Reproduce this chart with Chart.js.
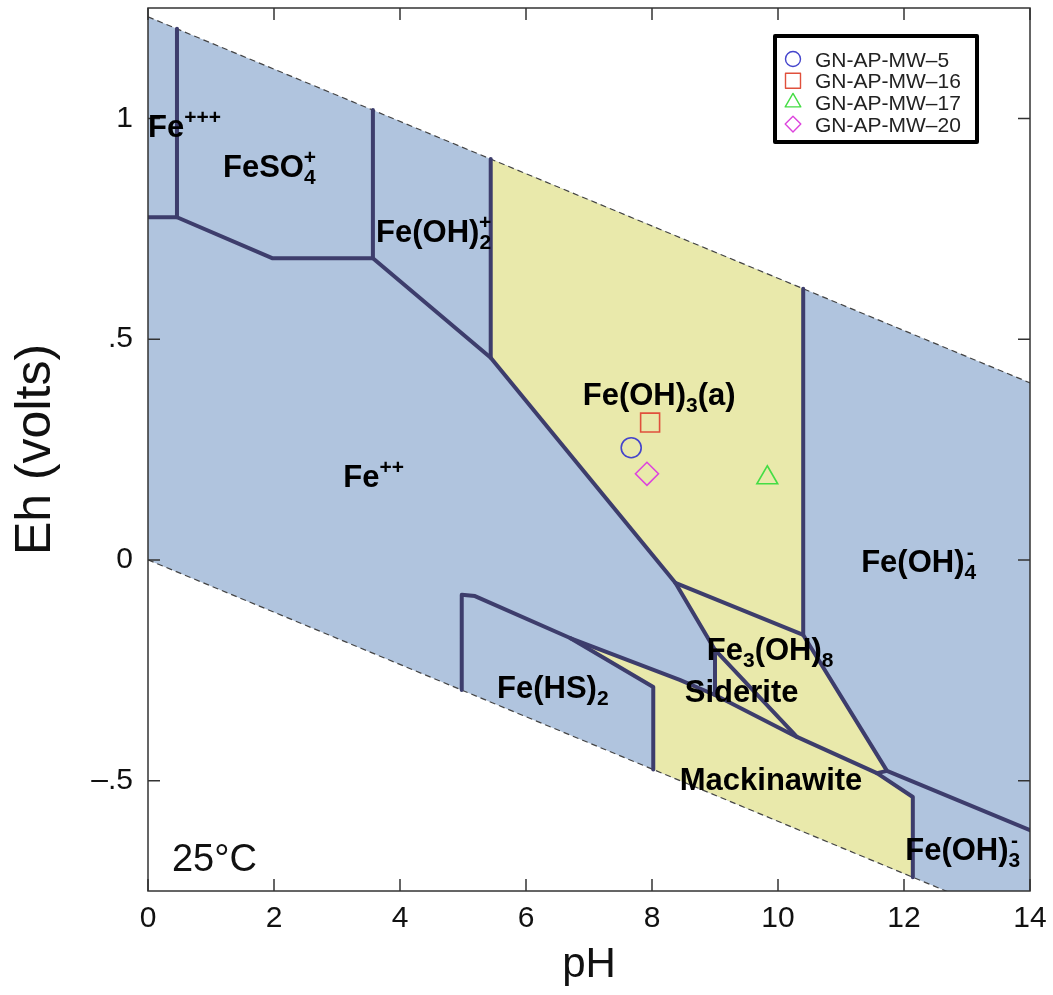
<!DOCTYPE html>
<html>
<head>
<meta charset="utf-8">
<script src="https://cdn.jsdelivr.net/npm/chart.js@4.4.1/dist/chart.umd.min.js"></script>
<style>
  html, body { margin: 0; padding: 0; background: #fff; }
</style>
</head>
<body>
<canvas id="chart" width="1053" height="995"></canvas>
<script>
// Eh-pH diagram for iron, 25 C. Field samples plotted on top.
const sampleNames = ['GN-AP-MW\u20135', 'GN-AP-MW\u201316', 'GN-AP-MW\u201317', 'GN-AP-MW\u201320'];
const samplePH = [7.67, 7.97, 9.83, 7.92];
const sampleEh = [0.254, 0.311, 0.186, 0.195];

const xTicks = [0, 2, 4, 6, 8, 10, 12, 14];
const yTicks = [-0.5, 0, 0.5, 1];
const yTickLabels = ['\u2013.5', '0', '.5', '1'];

// water stability limits
const waterUpper = [[0, 1.23], [14, 0.401]];
const waterLower = [[0, 0], [14, -0.829]];

// predominance fields (pH, Eh)
const aqueousField = [[0, 1.23], [14, 0.401], [14, -0.829], [0, 0]];
const ferrihydrite = [[5.44, 0.908], [10.40, 0.614], [10.40, -0.170], [8.37, -0.052], [5.44, 0.458]];
const magnetite = [[8.37, -0.052], [10.40, -0.170], [11.73, -0.478], [11.57, -0.483], [10.30, -0.401], [9.0, -0.204]];
const siderite = [[9.0, -0.204], [9.0, -0.306], [10.30, -0.401]];
const mackinawite = [[8.02, -0.288], [6.70, -0.177], [8.44, -0.272], [9.0, -0.306], [10.30, -0.401],
  [11.57, -0.483], [12.14, -0.537], [12.14, -0.719], [8.02, -0.475]];

// field boundaries
const boundaries = [
  [[0.46, 1.203], [0.46, 0.776]],
  [[0, 0.776], [0.46, 0.776], [1.98, 0.683], [3.57, 0.683], [5.44, 0.458], [8.37, -0.052], [9.0, -0.204]],
  [[3.57, 1.019], [3.57, 0.683]],
  [[5.44, 0.908], [5.44, 0.458]],
  [[8.37, -0.052], [10.40, -0.170], [11.73, -0.478], [14, -0.612]],
  [[10.40, 0.614], [10.40, -0.170]],
  [[9.0, -0.204], [9.0, -0.306]],
  [[9.0, -0.204], [10.30, -0.401]],
  [[4.98, -0.295], [4.98, -0.079], [5.19, -0.082], [6.70, -0.177], [8.44, -0.272], [9.0, -0.306],
    [10.30, -0.401], [11.57, -0.483], [12.14, -0.537], [12.14, -0.719]],
  [[6.70, -0.177], [8.02, -0.288], [8.02, -0.475]],
  [[11.57, -0.483], [11.73, -0.478]]
];

// species names, anchored at left/baseline in data units
const regionLabels = [
  { at: [0.0, 0.957], parts: [['Fe'], ['+++', 'sup']] },
  { at: [1.19, 0.868], parts: [['FeSO'], ['4', 'both', '+']] },
  { at: [3.62, 0.719], parts: [['Fe(OH)'], ['2', 'both', '+']] },
  { at: [6.90, 0.351], parts: [['Fe(OH)'], ['3', 'sub'], ['(a)']] },
  { at: [3.10, 0.166], parts: [['Fe'], ['++', 'sup']] },
  { at: [11.32, -0.027], parts: [['Fe(OH)'], ['4', 'both', '-']] },
  { at: [8.87, -0.227], parts: [['Fe'], ['3', 'sub'], ['(OH)'], ['8', 'sub']] },
  { at: [8.52, -0.322], parts: [['Siderite']] },
  { at: [5.54, -0.313], parts: [['Fe(HS)'], ['2', 'sub']] },
  { at: [8.44, -0.522], parts: [['Mackinawite']] },
  { at: [12.02, -0.680], parts: [['Fe(OH)'], ['3', 'both', '-']] }
];

const FONT = "'Liberation Sans', Arial, sans-serif";
const BLUE = '#b0c4de';
const YELLOW = '#e9e9ab';
const EDGE = '#3d3d6c';

const markerStyles = ['circle', 'rect', 'triangle', 'rectRot'];
const markerColors = ['#4444cc', '#e0503c', '#44dd44', '#dd44dd'];
const markerSizes = [10, 13.4, 12, 11.5];
const legendSizes = [7.5, 10.6, 9, 7.8];

const toXY = arr => arr.map(p => ({ x: p[0], y: p[1] }));

function polygon(points, color, order) {
  return {
    type: 'line', data: toXY(points), order,
    backgroundColor: color, borderWidth: 0, pointRadius: 0,
    fill: 'shape', tension: 0
  };
}

const datasets = [];
sampleNames.forEach((name, i) => {
  datasets.push({
    type: 'scatter', label: name, order: 1,
    data: [{ x: samplePH[i], y: sampleEh[i] }],
    pointStyle: markerStyles[i], pointRadius: markerSizes[i],
    borderColor: markerColors[i], backgroundColor: 'rgba(0,0,0,0)', borderWidth: 1.6
  });
});
boundaries.forEach(b => {
  datasets.push({
    type: 'line', data: toXY(b), order: 2, borderColor: EDGE, borderWidth: 4,
    pointRadius: 0, fill: false, tension: 0, borderJoinStyle: 'round', borderCapStyle: 'round'
  });
});
[waterUpper, waterLower].forEach(w => {
  datasets.push({
    type: 'line', data: toXY(w), order: 3, borderColor: '#444', borderWidth: 1.2,
    borderDash: [6, 4], pointRadius: 0, fill: false
  });
});
[ferrihydrite, magnetite, siderite, mackinawite].forEach(p => datasets.push(polygon(p, YELLOW, 4)));
datasets.push(polygon(aqueousField, BLUE, 5));

function drawMarker(ctx, style, x, y, r) {
  ctx.beginPath();
  if (style === 'circle') {
    ctx.arc(x, y, r, 0, Math.PI * 2);
  } else if (style === 'rect') {
    const s = r * Math.SQRT1_2;
    ctx.rect(x - s, y - s, 2 * s, 2 * s);
  } else if (style === 'triangle') {
    for (let k = 0; k < 3; k++) {
      const a = k * 2 * Math.PI / 3;
      const px = x + Math.sin(a) * r, py = y - Math.cos(a) * r;
      k ? ctx.lineTo(px, py) : ctx.moveTo(px, py);
    }
    ctx.closePath();
  } else {
    ctx.moveTo(x - r, y); ctx.lineTo(x, y - r); ctx.lineTo(x + r, y); ctx.lineTo(x, y + r);
    ctx.closePath();
  }
  ctx.stroke();
}

function drawRich(ctx, x, y, parts) {
  const big = 'bold 31px ' + FONT, small = 'bold 21px ' + FONT;
  let cx = x;
  parts.forEach(([t, kind, sup]) => {
    if (!kind) {
      ctx.font = big;
      ctx.fillText(t, cx, y);
      cx += ctx.measureText(t).width;
    } else if (kind === 'sub') {
      ctx.font = small;
      ctx.fillText(t, cx, y + 7);
      cx += ctx.measureText(t).width;
    } else if (kind === 'sup') {
      ctx.font = small;
      ctx.fillText(t, cx, y - 13);
      cx += ctx.measureText(t).width;
    } else {
      ctx.font = small;
      ctx.fillText(t, cx, y + 7);
      const w = ctx.measureText(t).width;
      const ws = ctx.measureText(sup).width;
      ctx.fillText(sup, cx + (w - ws) / 2, y - 13);
      cx += Math.max(w, ws);
    }
  });
}

const frameAndTicks = {
  id: 'frameAndTicks',
  afterDatasetsDraw(chart) {
    const { ctx, chartArea: a, scales: { x, y } } = chart;
    ctx.save();
    ctx.strokeStyle = '#333';
    ctx.lineWidth = 1.5;
    ctx.strokeRect(a.left, a.top, a.right - a.left, a.bottom - a.top);
    ctx.beginPath();
    xTicks.forEach(v => {
      const px = x.getPixelForValue(v);
      ctx.moveTo(px, a.bottom); ctx.lineTo(px, a.bottom - 12);
      ctx.moveTo(px, a.top); ctx.lineTo(px, a.top + 12);
    });
    yTicks.forEach(v => {
      const py = y.getPixelForValue(v);
      ctx.moveTo(a.left, py); ctx.lineTo(a.left + 12, py);
      ctx.moveTo(a.right, py); ctx.lineTo(a.right - 12, py);
    });
    ctx.stroke();

    ctx.fillStyle = '#000';
    ctx.textBaseline = 'alphabetic';
    ctx.textAlign = 'left';
    regionLabels.forEach(l => {
      drawRich(ctx, x.getPixelForValue(l.at[0]), y.getPixelForValue(l.at[1]), l.parts);
    });
    ctx.font = '38px ' + FONT;
    ctx.fillStyle = '#111';
    ctx.fillText('25\u00b0C', x.getPixelForValue(0.38), y.getPixelForValue(-0.705));
    ctx.restore();
  }
};

const insetLegend = {
  id: 'insetLegend',
  afterDraw(chart) {
    const { ctx, chartArea: a } = chart;
    const left = a.right - 255, top = a.top + 28, w = 202, h = 106;
    ctx.save();
    ctx.fillStyle = '#fff';
    ctx.fillRect(left, top, w, h);
    ctx.lineWidth = 4;
    ctx.strokeStyle = '#000';
    ctx.lineJoin = 'round';
    ctx.strokeRect(left, top, w, h);
    ctx.font = '21px ' + FONT;
    ctx.textBaseline = 'middle';
    sampleNames.forEach((name, i) => {
      const ry = top + 25 + i * 21.7;
      ctx.strokeStyle = markerColors[i];
      ctx.lineWidth = 1.4;
      drawMarker(ctx, markerStyles[i], left + 18, ry - 2, legendSizes[i]);
      ctx.fillStyle = '#222';
      ctx.fillText(name, left + 40, ry);
    });
    ctx.restore();
  }
};

new Chart(document.getElementById('chart'), {
  type: 'scatter',
  data: { datasets },
  options: {
    responsive: false,
    animation: false,
    layout: { autoPadding: false, padding: { left: 0, right: 23, top: 8, bottom: 0 } },
    plugins: { legend: { display: false }, tooltip: { enabled: false } },
    scales: {
      x: {
        type: 'linear', min: 0, max: 14,
        afterBuildTicks: s => { s.ticks = xTicks.map(v => ({ value: v })); },
        afterFit: s => { s.height = 104; s.paddingLeft = 0; s.paddingRight = 0; },
        grid: { display: false, drawTicks: false },
        border: { display: false },
        ticks: { padding: 10, color: '#111', font: { family: FONT, size: 30 }, callback: v => String(v) },
        title: { display: true, text: 'pH', color: '#111', font: { family: FONT, size: 42 }, padding: { top: 0, bottom: 4 } }
      },
      y: {
        type: 'linear', min: -0.75, max: 1.25,
        afterBuildTicks: s => { s.ticks = yTicks.map(v => ({ value: v })); },
        afterFit: s => { s.width = 148; s.paddingTop = 0; s.paddingBottom = 0; },
        grid: { display: false, drawTicks: false },
        border: { display: false },
        ticks: {
          padding: 15, color: '#111', font: { family: FONT, size: 30, lineHeight: 0.5 },
          callback: v => yTickLabels[yTicks.indexOf(v)]
        },
        title: { display: true, text: 'Eh (volts)', color: '#111', font: { family: FONT, size: 50 }, padding: { top: 6, bottom: 0 } }
      }
    }
  },
  plugins: [frameAndTicks, insetLegend]
});
</script>
</body>
</html>
